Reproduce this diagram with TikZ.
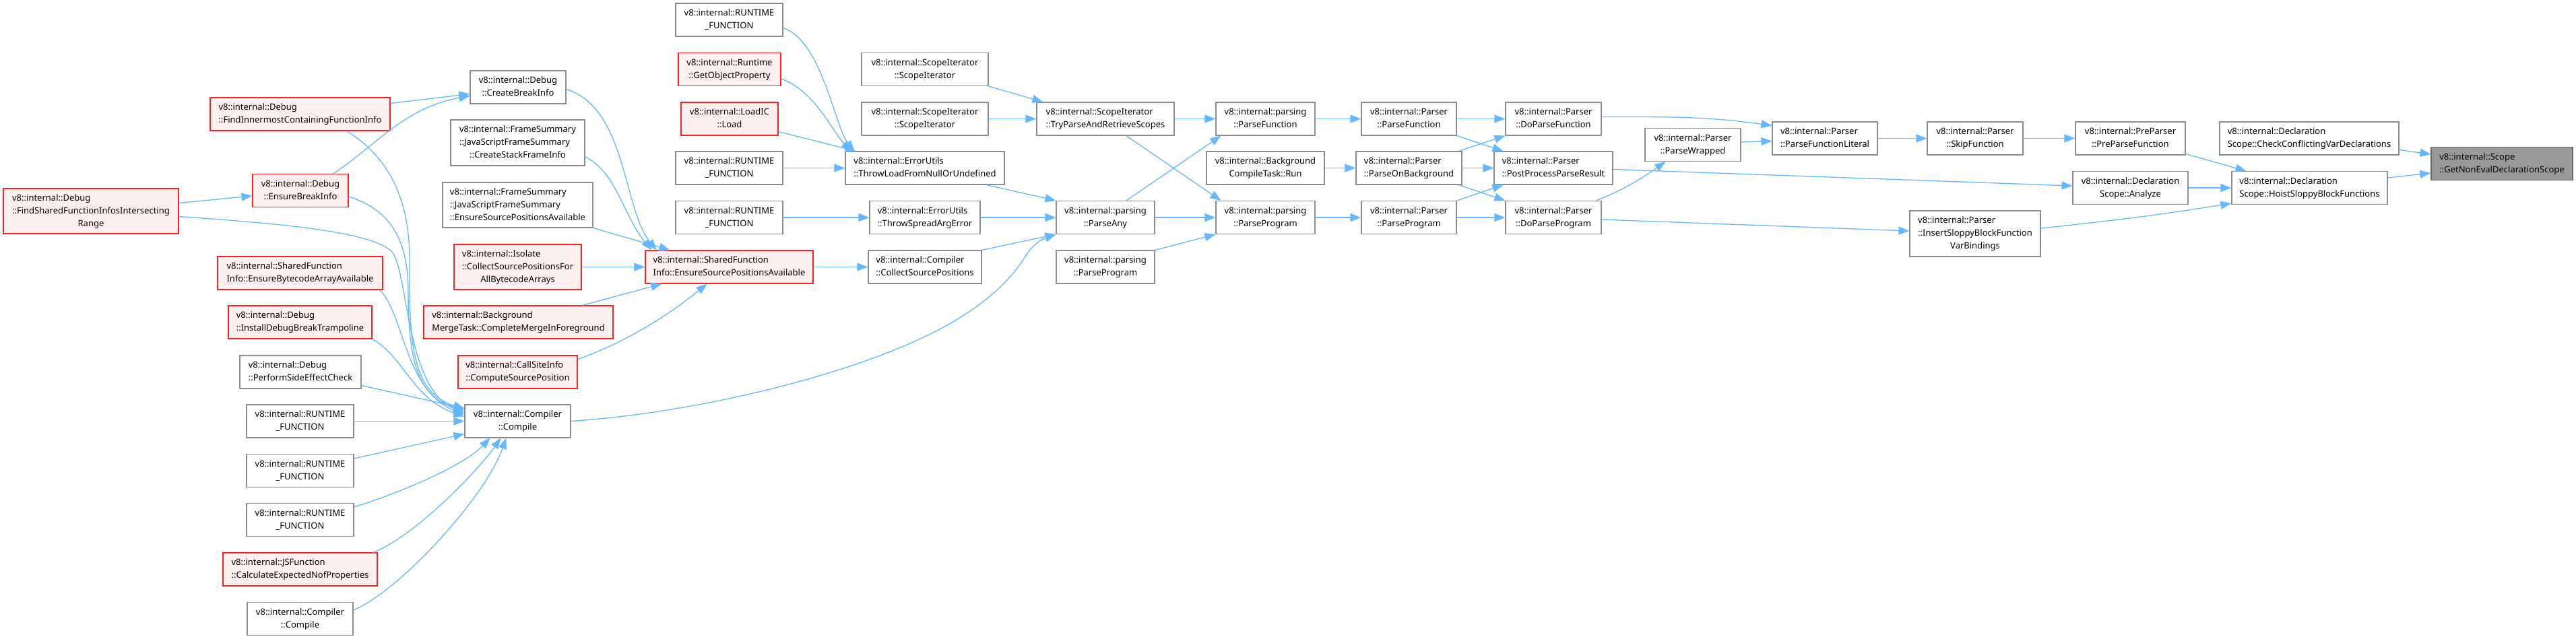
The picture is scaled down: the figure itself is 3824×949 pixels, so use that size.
\documentclass[tikz,border=0pt]{standalone}
\usepackage{fontspec}
\setmainfont{Noto Sans}
\usetikzlibrary{arrows.meta}
\definecolor{eblue}{HTML}{63B8FF}
\definecolor{ngrey}{HTML}{8C8C8C}
\definecolor{rfill}{HTML}{FFF0F0}
\definecolor{rline}{HTML}{FF2020}
\definecolor{gfill}{HTML}{999999}
\definecolor{gline}{HTML}{666666}
\newcommand\nf{\fontsize{13bp}{19bp}\selectfont}
\newcommand\Two[2]{\begin{tabular}{@{}l@{}}#1\\\multicolumn{1}{@{}c@{}}{#2}\end{tabular}}
\newcommand\Three[3]{\begin{tabular}{@{}l@{}}#1\\#2\\\multicolumn{1}{@{}c@{}}{#3}\end{tabular}}
\tikzset{
 nd/.style={draw=ngrey, line width=1.2bp, fill=white, inner sep=0pt, font=\nf, minimum height=49bp, text=black},
 rd/.style={nd, draw=rline, line width=1.05bp, fill=rfill},
 gd/.style={nd, draw=gline, fill=gfill},
 ed/.style={draw=eblue, line width=1.3bp, -{Triangle[length=16bp,width=12bp]}}
}
\begin{document}
\begin{tikzpicture}[x=1bp,y=-1bp]
\fill[white] (0,0) rectangle (3824,949);
\useasboundingbox (0,0) rectangle (3824,949);
% column 0/1
\node[rd, minimum width=260bp, minimum height=67bp] (FSF) at (135,313.5) {\Three{v8::internal::Debug}{::FindSharedFunctionInfosIntersecting}{Range}};
\node[rd, minimum width=267bp] (FIC) at (445.5,169.5) {\Two{v8::internal::Debug}{::FindInnermostContainingFunctionInfo}};
\node[rd, minimum width=142bp] (EBI) at (446,283) {\Two{v8::internal::Debug}{::EnsureBreakInfo}};
\node[rd, minimum width=245bp] (EBA) at (445.5,405.5) {\Two{v8::internal::SharedFunction}{Info::EnsureBytecodeArrayAvailable}};
\node[rd, minimum width=213bp] (IDB) at (445.5,478.5) {\Two{v8::internal::Debug}{::InstallDebugBreakTrampoline}};
\node[nd, minimum width=180bp] (PSE) at (446,552.5) {\Two{v8::internal::Debug}{::PerformSideEffectCheck}};
\node[nd, minimum width=159bp] (RF1) at (445.5,625.5) {\Two{v8::internal::RUNTIME}{\_FUNCTION}};
\node[nd, minimum width=159bp] (RF2) at (445.5,699) {\Two{v8::internal::RUNTIME}{\_FUNCTION}};
\node[nd, minimum width=159bp] (RF3) at (445.5,772) {\Two{v8::internal::RUNTIME}{\_FUNCTION}};
\node[rd, minimum width=229bp] (JSF) at (445.5,845.5) {\Two{v8::internal::JSFunction}{::CalculateExpectedNofProperties}};
\node[nd, minimum width=157bp] (CC2) at (445.5,919) {\Two{v8::internal::Compiler}{::Compile}};
% column 2
\node[nd, minimum width=142bp] (CBI) at (769,129.5) {\Two{v8::internal::Debug}{::CreateBreakInfo}};
\node[nd, minimum width=199bp, minimum height=68bp] (CSF) at (768.5,212) {\Three{v8::internal::FrameSummary}{::JavaScriptFrameSummary}{::CreateStackFrameInfo}};
\node[nd, minimum width=223bp, minimum height=67bp] (JES) at (768.5,304.5) {\Three{v8::internal::FrameSummary}{::JavaScriptFrameSummary}{::EnsureSourcePositionsAvailable}};
\node[rd, minimum width=189bp, minimum height=67bp] (ICS) at (768.5,396.5) {\Three{v8::internal::Isolate}{::CollectSourcePositionsFor}{AllBytecodeArrays}};
\node[rd, minimum width=281bp] (BMT) at (769.5,478.5) {\Two{v8::internal::Background}{MergeTask::CompleteMergeInForeground}};
\node[rd, minimum width=177bp] (CSI) at (768.5,552.5) {\Two{v8::internal::CallSiteInfo}{::ComputeSourcePosition}};
\node[nd, minimum width=157bp] (CC) at (768.5,625.5) {\Two{v8::internal::Compiler}{::Compile}};
% column 3
\node[nd, minimum width=159bp] (RFa) at (1082.5,29.5) {\Two{v8::internal::RUNTIME}{\_FUNCTION}};
\node[rd, minimum width=152bp] (RGO) at (1083,103) {\Two{v8::internal::Runtime}{::GetObjectProperty}};
\node[rd, minimum width=144bp] (LIC) at (1083,176.5) {\Two{v8::internal::LoadIC}{::Load}};
\node[nd, minimum width=159bp] (RFb) at (1082.5,249.5) {\Two{v8::internal::RUNTIME}{\_FUNCTION}};
\node[nd, minimum width=159bp] (RFc) at (1082.5,323) {\Two{v8::internal::RUNTIME}{\_FUNCTION}};
\node[rd, minimum width=249bp] (SEP) at (1082.5,396.5) {\Two{v8::internal::SharedFunction}{Info::EnsureSourcePositionsAvailable}};
% column 4
\node[nd, minimum width=188bp] (SI1) at (1373,103) {\Two{v8::internal::ScopeIterator}{::ScopeIterator}};
\node[nd, minimum width=188bp] (SI2) at (1373,176.5) {\Two{v8::internal::ScopeIterator}{::ScopeIterator}};
\node[nd, minimum width=236bp] (ETL) at (1373,249.5) {\Two{v8::internal::ErrorUtils}{::ThrowLoadFromNullOrUndefined}};
\node[nd, minimum width=164bp] (ETS) at (1373,323) {\Two{v8::internal::ErrorUtils}{::ThrowSpreadArgError}};
\node[nd, minimum width=168bp] (CCS) at (1373,396.5) {\Two{v8::internal::Compiler}{::CollectSourcePositions}};
% column 5
\node[nd, minimum width=204bp] (TPR) at (1641,176.5) {\Two{v8::internal::ScopeIterator}{::TryParseAndRetrieveScopes}};
\node[nd, minimum width=146bp] (PA) at (1641,323) {\Two{v8::internal::parsing}{::ParseAny}};
\node[nd, minimum width=146bp] (PP2) at (1641,396.5) {\Two{v8::internal::parsing}{::ParseProgram}};
% column 6
\node[nd, minimum width=147bp] (PF) at (1878.5,176.5) {\Two{v8::internal::parsing}{::ParseFunction}};
\node[nd, minimum width=175bp] (BCT) at (1878.5,249.5) {\Two{v8::internal::Background}{CompileTask::Run}};
\node[nd, minimum width=147bp] (PP) at (1878.5,323) {\Two{v8::internal::parsing}{::ParseProgram}};
% column 7
\node[nd, minimum width=141bp] (PrPF) at (2091.5,176.5) {\Two{v8::internal::Parser}{::ParseFunction}};
\node[nd, minimum width=157bp] (POB) at (2091.5,249.5) {\Two{v8::internal::Parser}{::ParseOnBackground}};
\node[nd, minimum width=141bp] (PrPP) at (2091.5,323) {\Two{v8::internal::Parser}{::ParseProgram}};
% column 8
\node[nd, minimum width=142bp] (DPF) at (2306,176.5) {\Two{v8::internal::Parser}{::DoParseFunction}};
\node[nd, minimum width=176bp] (PPR) at (2306,249.5) {\Two{v8::internal::Parser}{::PostProcessParseResult}};
\node[nd, minimum width=142bp] (DPP) at (2306,323) {\Two{v8::internal::Parser}{::DoParseProgram}};
% column 9+
\node[nd, minimum width=142bp] (PW) at (2513,215) {\Two{v8::internal::Parser}{::ParseWrapped}};
\node[nd, minimum width=156bp] (PFL) at (2709,205.5) {\Two{v8::internal::Parser}{::ParseFunctionLiteral}};
\node[nd, minimum width=142bp] (SF) at (2932,205.5) {\Two{v8::internal::Parser}{::SkipFunction}};
\node[nd, minimum width=194bp, minimum height=68bp] (ISB) at (2932,347) {\Three{v8::internal::Parser}{::InsertSloppyBlockFunction}{VarBindings}};
\node[nd, minimum width=163bp] (PPF) at (3162.5,205.5) {\Two{v8::internal::PreParser}{::PreParseFunction}};
\node[nd, minimum width=171bp] (DSA) at (3162.5,279) {\Two{v8::internal::Declaration}{Scope::Analyze}};
\node[nd, minimum width=266bp] (CCV) at (3428,205.5) {\Two{v8::internal::Declaration}{Scope::CheckConflictingVarDeclarations}};
\node[nd, minimum width=231bp] (HSB) at (3428.5,279) {\Two{v8::internal::Declaration}{Scope::HoistSloppyBlockFunctions}};
\node[gd, minimum width=210bp] (GNE) at (3714,243) {\Two{v8::internal::Scope}{::GetNonEvalDeclarationScope}};
% edges right part
\draw[ed] ([yshift=-17bp]CCV.east) -- ([yshift=14bp]GNE.west);
\draw[ed] ([yshift=15bp]HSB.east) -- ([yshift=-14bp]GNE.west);
\draw[ed] ([yshift=2bp]PPF.south east) -- ([xshift=22bp]HSB.north west);
\draw[ed] (DSA.east) -- (HSB.west);
\draw[ed] ([yshift=8bp]ISB.east) to[out=6,in=189] ([yshift=2bp]HSB.south west);
\draw[ed] (SF.east) -- (PPF.west);
\draw[ed] (PFL.east) -- (SF.west);
\draw[ed] ([yshift=3bp]DPF.east) to[out=0,in=172] ([yshift=19bp]PFL.west);
\draw[ed] ([yshift=4bp]PW.east) -- ([yshift=-4bp]PFL.west);
\draw[ed] ([yshift=-2bp]PPR.east) -- ([yshift=3bp]DSA.west);
\draw[ed] ([yshift=-3bp]DPP.east) -- ([yshift=4bp]ISB.west);
\draw[ed] ([xshift=-8bp]DPP.north east) to[out=22,in=215] ([xshift=31bp]PW.south west);
\draw[ed] (PrPF.east) -- (DPF.west);
\draw[ed] (PrPF.south east) -- ([xshift=14bp]PPR.north west);
\draw[ed] ([xshift=-5bp]POB.north east) -- (DPF.south west);
\draw[ed] (POB.east) -- (PPR.west);
\draw[ed] ([xshift=-5bp]POB.south east) -- (DPP.north west);
\draw[ed] (PrPP.north east) -- ([xshift=14bp]PPR.south west);
\draw[ed] (PrPP.east) -- (DPP.west);
\draw[ed] (PF.east) -- (PrPF.west);
\draw[ed] (BCT.east) -- (POB.west);
\draw[ed] (PP.east) -- (PrPP.west);
\draw[ed] (TPR.east) -- (PF.west);
\draw[ed] ([xshift=31bp]TPR.south) -- ([xshift=8bp]PP.north west);
\draw[ed] ([xshift=31bp]PA.north) -- ([xshift=8bp]PF.south west);
\draw[ed] (PA.east) -- (PP.west);
\draw[ed] (PP2.north east) -- (PP.south west);
\draw[ed] (SI1.south east) -- ([xshift=10bp]TPR.north west);
\draw[ed] (SI2.east) -- (TPR.west);
\draw[ed] ([xshift=-27bp]ETL.south east) -- (PA.north west);
\draw[ed] (ETS.east) -- (PA.west);
\draw[ed] (CCS.north east) -- (PA.south west);
\draw[ed] (CC.east) .. controls (1050,612) and (1320,545) .. (1440,462) .. controls (1490,428) and (1510,400) .. (1524,378) .. controls (1533,364) and (1545,356) .. (PA.south west);
\draw[ed] ([yshift=-12bp]RFa.east) .. controls (1220,60) and (1240,190) .. ([xshift=14bp]ETL.north west);
\draw[ed] ([yshift=-14bp]RGO.east) .. controls (1210,135) and (1235,195) .. ([xshift=10bp]ETL.north west);
\draw[ed] ([yshift=-19bp]LIC.east) -- ([xshift=16bp]ETL.north west);
\draw[ed] (RFb.east) -- (ETL.west);
\draw[ed] (RFc.east) -- (ETS.west);
\draw[ed] (SEP.east) -- (CCS.west);
% edges into SEP
\draw[ed] ([yshift=-3bp]CBI.east) .. controls (930,160) and (925,310) .. ([xshift=17bp]SEP.north west);
\draw[ed] ([yshift=-21bp]CSF.east) .. controls (915,255) and (925,320) .. ([xshift=10bp]SEP.north west);
\draw[ed] (JES.south east) -- ([xshift=37bp]SEP.north west);
\draw[ed] (ICS.east) -- (SEP.west);
\draw[ed] ([xshift=-46bp]BMT.north east) -- ([xshift=25bp]SEP.south west);
\draw[ed] ([yshift=19bp]CSI.east) .. controls (925,510) and (990,470) .. ([xshift=92bp]SEP.south west);
% edges into CBI / EBI
\draw[ed] ([yshift=16bp]FIC.east) -- ([yshift=-10bp]CBI.west);
\draw[ed] ([xshift=-23bp]EBI.north east) .. controls (560,215) and (600,160) .. ([yshift=-13bp]CBI.west);
\draw[ed] ([yshift=12bp]FSF.east) -- ([yshift=-8bp]EBI.west);
% edges into CC
\draw[ed] ([xshift=69bp]FIC.south) .. controls (580,235) and (609,300) .. (608,390) .. controls (607,510) and (612,585) .. ([yshift=19bp]CC.west);
\draw[ed] ([yshift=-9bp]EBI.east) .. controls (575,310) and (605,350) .. (606,430) .. controls (606,520) and (614,588) .. ([yshift=16bp]CC.west);
\draw[ed] ([yshift=-8bp]FSF.east) .. controls (430,333) and (555,345) .. (583,375) .. controls (606,410) and (604,580) .. ([yshift=13bp]CC.west);
\draw[ed] ([xshift=-5bp]EBA.south east) .. controls (600,465) and (600,580) .. ([yshift=10bp]CC.west);
\draw[ed] (IDB.south east) .. controls (600,530) and (612,592) .. ([yshift=7bp]CC.west);
\draw[ed] ([yshift=-20bp]PSE.east) -- ([yshift=19bp]CC.west);
\draw[ed] (RF1.east) -- (CC.west);
\draw[ed] ([yshift=18bp]RF2.east) -- ([yshift=-19bp]CC.west);
\draw[ed] ([yshift=19bp]RF3.east) .. controls (600,730) and (690,690) .. ([xshift=38bp]CC.south west);
\draw[ed] ([xshift=-7bp]JSF.north east) .. controls (610,800) and (705,705) .. ([xshift=54bp]CC.south west);
\draw[ed] ([yshift=13bp]CC2.east) .. controls (590,880) and (720,740) .. ([xshift=62bp]CC.south west);
\end{tikzpicture}
\end{document}
